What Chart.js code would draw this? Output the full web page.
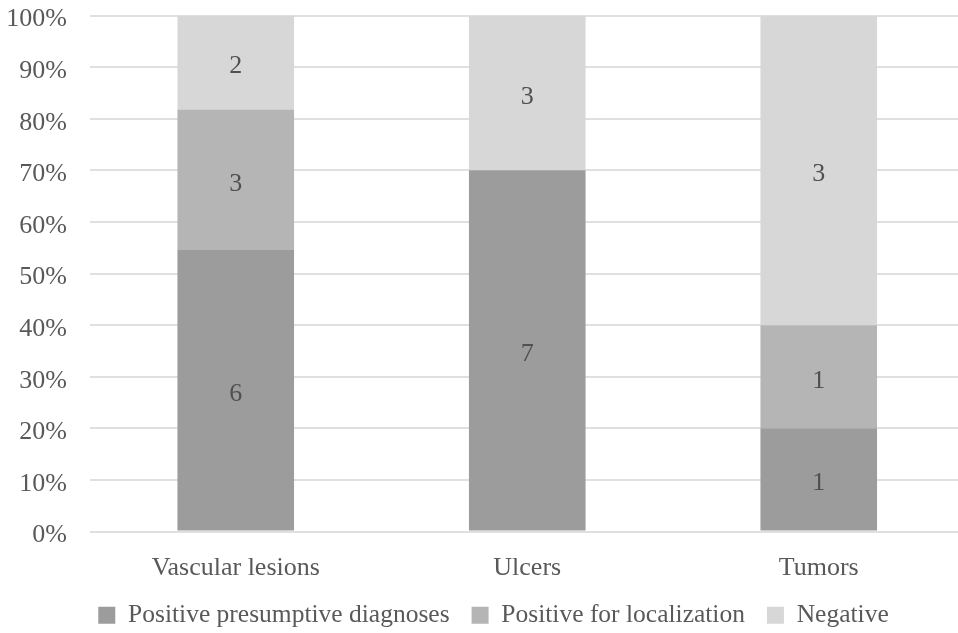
<!DOCTYPE html>
<html>
<head>
<meta charset="utf-8">
<script src="https://cdn.jsdelivr.net/npm/chart.js@4/dist/chart.umd.min.js"></script>
<style>
  html, body { margin: 0; padding: 0; background: #fff; overflow: hidden; }
  #wrap { width: 958px; height: 633px; overflow: hidden; position: relative; }
  canvas { display: block; position: absolute; left: 0; top: -23px; }
</style>
</head>
<body>
<div id="wrap"><canvas id="c" width="987" height="656"></canvas></div>
<script>
// Case counts per lesion type
const categories = ['Vascular lesions', 'Ulcers', 'Tumors'];
const presumptive = [6, 7, 1];
const localization = [3, 0, 1];
const negative = [2, 3, 3];
const seriesNames = ['Positive presumptive diagnoses', 'Positive for localization', 'Negative'];
const yTicks = [0, 10, 20, 30, 40, 50, 60, 70, 80, 90, 100];

const counts = [presumptive, localization, negative];
const totals = categories.map((_, i) => counts.reduce((s, arr) => s + arr[i], 0));
const share = arr => arr.map((v, i) => v / totals[i] * 100);

const colors = ['#9c9c9c', '#b5b5b5', '#d7d7d7'];
const FONT = '"Liberation Serif", "Times New Roman", serif';

// Writes each segment's case count in the middle of its bar piece
const countLabels = {
  id: 'countLabels',
  afterDatasetsDraw(chart) {
    const ctx = chart.ctx;
    ctx.save();
    ctx.font = '26px ' + FONT;
    ctx.fillStyle = '#505050';
    ctx.textAlign = 'center';
    ctx.textBaseline = 'middle';
    chart.data.datasets.forEach((ds, di) => {
      const meta = chart.getDatasetMeta(di);
      meta.data.forEach((bar, i) => {
        const n = ds.counts[i];
        if (!n) return;
        const y = (bar.y + bar.base) / 2 + 4;
        ctx.fillText(String(n), bar.x, y);
      });
    });
    ctx.restore();
  }
};

// Pulls the legend row a little closer to the category labels
const legendLift = {
  id: 'legendLift',
  afterLayout(chart) {
    const lg = chart.legend;
    if (!lg) return;
    lg.top -= 25;
    lg.bottom -= 25;
  }
};

new Chart(document.getElementById('c'), {
  type: 'bar',
  data: {
    labels: categories,
    datasets: counts.map((arr, k) => ({
      label: seriesNames[k],
      data: share(arr),
      counts: arr,
      backgroundColor: colors[k],
      borderWidth: 0,
      categoryPercentage: 1,
      barPercentage: 0.4
    }))
  },
  options: {
    responsive: false,
    animation: false,
    layout: { padding: { top: 0, right: 0, left: 0, bottom: -30 } },
    plugins: {
      tooltip: { enabled: false },
      legend: {
        position: 'bottom',
        labels: {
          font: { family: FONT, size: 25.5 },
          color: '#595959',
          boxWidth: 17,
          boxHeight: 17,
          padding: 22
        }
      }
    },
    scales: {
      x: {
        stacked: true,
        grid: { display: false, drawTicks: false },
        border: { display: false },
        ticks: { font: { family: FONT, size: 26, lineHeight: 1 }, color: '#595959', padding: 24 }
      },
      y: {
        stacked: true,
        min: 0,
        max: 100,
        afterFit(scale) { scale.width = 90; },
        afterBuildTicks(scale) { scale.ticks = yTicks.map(v => ({ value: v })); },
        grid: { color: '#e0e0e0', lineWidth: 2, drawTicks: false },
        border: { display: false },
        ticks: {
          font: { family: FONT, size: 26 },
          color: '#595959',
          padding: 23,
          labelOffset: 4,
          callback: v => v + '%'
        }
      },
      // empty right-hand margin strip
      yRight: {
        position: 'right',
        afterFit(scale) { scale.width = 22.5; },
        grid: { display: false, drawTicks: false },
        border: { display: false },
        ticks: { display: false }
      }
    }
  },
  plugins: [countLabels, legendLift]
});
</script>
</body>
</html>
